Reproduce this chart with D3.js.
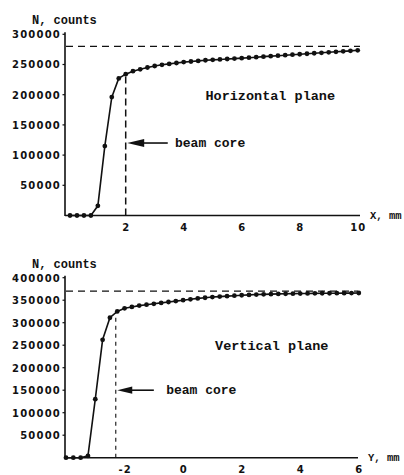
<!DOCTYPE html>
<html>
<head>
<meta charset="utf-8">
<script src="https://cdn.jsdelivr.net/npm/d3@7"></script>
<style>
  body { margin: 0; background: #fff; }
  svg { display: block; }
  .tick-label { font-family: "DejaVu Sans", sans-serif; font-weight: bold; font-size: 10px; letter-spacing: 1.2px; fill: #111; }
  .mono { font-family: "Liberation Mono", "DejaVu Sans Mono", monospace; font-weight: bold; fill: #111; }
</style>
</head>
<body>
<div id="chart"></div>
<script>
// horizontal plane profile
var xPosH = [0.08, 0.32, 0.56, 0.80, 1.04, 1.28, 1.52, 1.76, 2.00,
  2.25, 2.5, 2.75, 3.0, 3.25, 3.5, 3.75, 4.0, 4.25, 4.5, 4.75, 5.0,
  5.25, 5.5, 5.75, 6.0, 6.25, 6.5, 6.75, 7.0, 7.25, 7.5, 7.75, 8.0,
  8.25, 8.5, 8.75, 9.0, 9.25, 9.5, 9.75, 10.0];
var countsH = [0, 0, 0, 0, 16000, 115000, 196000, 227000, 234000,
  239000, 242000, 245000, 247500, 249500, 251000, 252500, 254000, 255000, 256000, 257000, 257700,
  258400, 259100, 259800, 260500, 261300, 262100, 263000, 263800, 264600, 265400, 266200, 267000,
  267800, 268600, 269400, 270200, 271000, 271800, 272600, 273500];

// vertical plane profile
var yPosV = [-4.0, -3.75, -3.5, -3.25, -3.0, -2.75, -2.5, -2.25, -2.0,
  -1.75, -1.5, -1.25, -1.0, -0.75, -0.5, -0.25, 0.0, 0.25, 0.5, 0.75, 1.0,
  1.25, 1.5, 1.75, 2.0, 2.25, 2.5, 2.75, 3.0, 3.25, 3.5, 3.75, 4.0,
  4.25, 4.5, 4.75, 5.0, 5.25, 5.5, 5.75, 6.0];
var countsV = [0, 0, 0, 4000, 130000, 262000, 311000, 325000, 332000,
  335000, 338000, 340000, 342000, 344000, 346000, 348000, 350000, 352000, 354000, 355500, 357000,
  358000, 359000, 360000, 361000, 361800, 362500, 363000, 363500, 364000, 364300, 364600, 364800,
  365000, 365200, 365400, 365500, 365600, 365700, 365800, 366000];

var yTicksH = [50000, 100000, 150000, 200000, 250000, 300000];
var xTicksH = [2, 4, 6, 8, 10];
var yTicksV = [50000, 100000, 150000, 200000, 250000, 300000, 350000, 400000];
var xTicksV = [-2, 0, 2, 4, 6];

// reference levels / beam core markers
var levelH = 280000, coreH = 2.0, coreHTop = 234000;
var levelV = 370000, coreV = -2.3, coreVTop = 325000;

var svg = d3.select('#chart').append('svg')
  .attr('width', 404)
  .attr('height', 475);

function drawPanel(p) {
  var g = svg.append('g');
  var x = d3.scaleLinear().domain(p.xDomain).range(p.xRange);
  var y = d3.scaleLinear().domain(p.yDomain).range(p.yRange);

  // axes
  g.append('line')
    .attr('x1', 65).attr('x2', 65)
    .attr('y1', y(0) + 0.5).attr('y2', y(p.yDomain[1]) - 2)
    .attr('stroke', '#111').attr('stroke-width', 1.6);
  g.append('line')
    .attr('x1', 65).attr('x2', p.axisEnd)
    .attr('y1', y(0)).attr('y2', y(0))
    .attr('stroke', '#111').attr('stroke-width', 1.6);

  g.selectAll('.ytick').data(p.yTicks).enter().append('line')
    .attr('x1', 62.5).attr('x2', 65)
    .attr('y1', d => y(d)).attr('y2', d => y(d))
    .attr('stroke', '#111').attr('stroke-width', 1.2);
  g.selectAll('.ylab').data(p.yTicks).enter().append('text')
    .attr('class', 'tick-label')
    .attr('x', 61).attr('y', d => y(d) + 3.8)
    .attr('text-anchor', 'end')
    .text(d => d);
  g.selectAll('.xlab').data(p.xTicks).enter().append('text')
    .attr('class', 'tick-label')
    .attr('x', d => x(d) + 0.6).attr('y', y(0) + 15)
    .attr('text-anchor', 'middle')
    .text(d => d < 0 ? '-' + Math.abs(d) : d);

  g.append('text').attr('class', 'mono')
    .attr('x', 32).attr('y', p.titleY)
    .style('font-size', '12px')
    .text('N, counts');
  g.append('text').attr('class', 'mono')
    .attr('x', p.axisEnd + 10).attr('y', y(0) + 3)
    .style('font-size', '10.5px')
    .text(p.axisName);

  // saturation level
  g.append('line')
    .attr('x1', 66).attr('x2', p.axisEnd)
    .attr('y1', y(p.level)).attr('y2', y(p.level))
    .attr('stroke', '#111').attr('stroke-width', 1.3)
    .attr('stroke-dasharray', '7,5');
  // beam core edge
  g.append('line')
    .attr('x1', x(p.core)).attr('x2', x(p.core))
    .attr('y1', y(0)).attr('y2', y(p.coreTop))
    .attr('stroke', '#111').attr('stroke-width', p.coreWidth)
    .attr('stroke-dasharray', p.coreDash);

  var pts = p.xs.map((d, i) => [d, p.ys[i]]);
  var line = d3.line().x(d => x(d[0])).y(d => y(d[1]));
  g.append('path').datum(pts)
    .attr('d', line)
    .attr('fill', 'none')
    .attr('stroke', '#111')
    .attr('stroke-width', 1.6);
  g.selectAll('.dot').data(pts).enter().append('circle')
    .attr('cx', d => x(d[0])).attr('cy', d => y(d[1]))
    .attr('r', 2.4).attr('fill', '#111');

  // arrow + labels
  var ay = y(p.arrowY);
  var tip = x(p.core) + 1.5;
  g.append('line')
    .attr('x1', tip + 10).attr('x2', x(p.arrowEnd))
    .attr('y1', ay).attr('y2', ay)
    .attr('stroke', '#111').attr('stroke-width', 1.6);
  g.append('path')
    .attr('d', d3.line()([[tip, ay], [tip + p.headLen, ay - p.headHalf], [tip + p.headLen, ay + p.headHalf]]) + 'Z')
    .attr('fill', '#111');
  g.append('text').attr('class', 'mono')
    .attr('x', x(p.coreTextX)).attr('y', ay + 4)
    .style('font-size', '13px')
    .text('beam core');
  g.append('text').attr('class', 'mono')
    .attr('x', x(p.planeX)).attr('y', y(p.planeY))
    .style('font-size', '13.5px')
    .text(p.planeName);
}

drawPanel({
  xs: xPosH, ys: countsH, xTicks: xTicksH, yTicks: yTicksH,
  xDomain: [0, 10], xRange: [67.7, 357.7],
  yDomain: [0, 300000], yRange: [215.5, 34.3],
  axisEnd: 360, axisName: 'X, mm', titleY: 23.5,
  level: levelH, core: coreH, coreTop: coreHTop, coreWidth: 1.5, coreDash: '7,4',
  arrowY: 120000, arrowEnd: 3.45, coreTextX: 3.7, headLen: 17, headHalf: 4,
  planeX: 4.75, planeY: 192000, planeName: 'Horizontal plane'
});

drawPanel({
  xs: yPosV, ys: countsV, xTicks: xTicksV, yTicks: yTicksV,
  xDomain: [-4, 6], xRange: [66, 358.8],
  yDomain: [0, 400000], yRange: [457.7, 277.7],
  axisEnd: 358, axisName: 'Y, mm', titleY: 267.5,
  level: levelV, core: coreV, coreTop: coreVTop, coreWidth: 1.1, coreDash: '4,4',
  arrowY: 150000, arrowEnd: -1.0, coreTextX: -0.58, headLen: 15, headHalf: 3.6,
  planeX: 1.09, planeY: 240000, planeName: 'Vertical plane'
});
</script>
</body>
</html>
